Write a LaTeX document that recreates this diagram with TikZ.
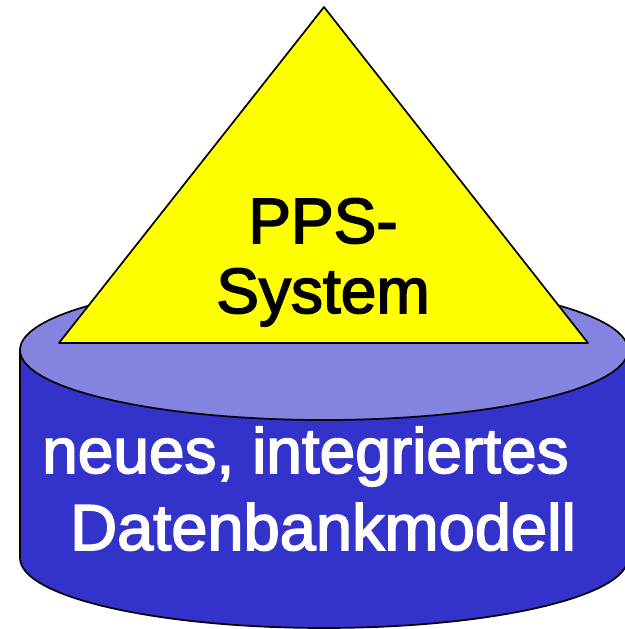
\documentclass[tikz,border=0pt]{standalone}
\usepackage{fontspec}
\setmainfont{Liberation Sans}[FakeBold=2.5]
\definecolor{bodyblue}{RGB}{51,51,204}
\definecolor{topblue}{RGB}{132,132,224}
\definecolor{pyryellow}{RGB}{255,255,0}
\begin{document}
\begin{tikzpicture}[x=1pt,y=1pt,
  outline/.style={draw=black,line width=1.7pt,line join=round},
  bigtext/.style={inner sep=0pt,font=\fontsize{64}{64}\selectfont},
  widetext/.style={inner sep=0pt,font=\fontsize{65}{65}\selectfont}]
\useasboundingbox (0,0) rectangle (624,629);
% cylinder body
\path[outline,fill=bodyblue] (20,279) -- (20,71) arc[start angle=180,end angle=360,x radius=304,y radius=70] -- (628,279) -- cycle;
% top ellipse
\path[outline,fill=topblue] (324,279) ellipse[x radius=304,y radius=70];
% triangle
\coordinate (apex) at (324,622);
\coordinate (bl) at (59,286);
\coordinate (br) at (588,286);
\path[outline,fill=pyryellow] (apex) -- (bl) -- (br) -- cycle;
% texts
\node[bigtext,anchor=base] (pps) at (323,386) {PPS-};
\node[bigtext,anchor=base] (sys) at (323,316) {System};
\node[bigtext,anchor=base west,text=white] (l1) at (42,156) {neues, integriertes};
\node[widetext,anchor=base west,text=white] (l2) at (70,79) {Datenbankmodell};
\end{tikzpicture}
\end{document}
